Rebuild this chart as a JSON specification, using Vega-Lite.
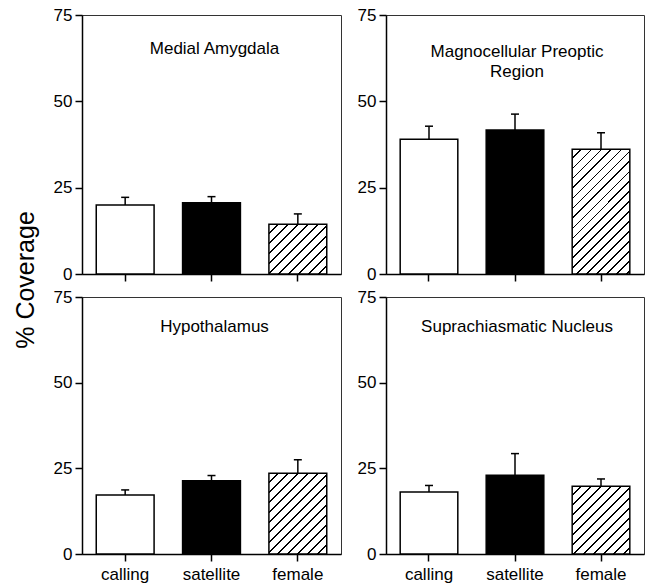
{
 "$schema": "https://vega.github.io/schema/vega-lite/v6.json",
 "padding": {"left": 13, "top": 5, "right": 6, "bottom": 1},
 "background": "white",
 "title": {"text": "% Coverage", "orient": "left", "anchor": "middle", "frame": "bounds", "fontSize": 25, "font": "Liberation Sans", "fontWeight": "normal", "color": "black", "offset": 14, "dx": 14},
 "datasets": {
  "bars": [
   {"region": "Medial Amygdala", "group": "calling", "mean": 20.0, "upper": 22.2},
   {"region": "Medial Amygdala", "group": "satellite", "mean": 20.6, "upper": 22.4},
   {"region": "Medial Amygdala", "group": "female", "mean": 14.4, "upper": 17.4},
   {"region": "Magnocellular Preoptic Region", "group": "calling", "mean": 39.0, "upper": 42.8},
   {"region": "Magnocellular Preoptic Region", "group": "satellite", "mean": 41.7, "upper": 46.3},
   {"region": "Magnocellular Preoptic Region", "group": "female", "mean": 36.1, "upper": 40.9},
   {"region": "Hypothalamus", "group": "calling", "mean": 17.25, "upper": 18.7},
   {"region": "Hypothalamus", "group": "satellite", "mean": 21.4, "upper": 22.9},
   {"region": "Hypothalamus", "group": "female", "mean": 23.6, "upper": 27.5},
   {"region": "Suprachiasmatic Nucleus", "group": "calling", "mean": 18.1, "upper": 20.0},
   {"region": "Suprachiasmatic Nucleus", "group": "satellite", "mean": 23.0, "upper": 29.3},
   {"region": "Suprachiasmatic Nucleus", "group": "female", "mean": 19.8, "upper": 21.9}
  ]
 },
 "columns": 2,
 "spacing": {"row": 23, "column": 45},
 "bounds": "flush",
 "concat": [
  {
   "width": 259, "height": 259,
   "data": {"name": "bars"},
   "encoding": {"x": {"field": "group", "type": "nominal", "sort": ["calling", "satellite", "female"], "scale": {"domain": ["calling", "satellite", "female"], "paddingInner": 0.33, "paddingOuter": 0.165}, "axis": {"title": null, "labels": false, "labelAngle": 0}}},
   "layer": [
    {"transform": [{"filter": "datum.region === 'Medial Amygdala' && datum.group !== 'female'"}],
     "mark": {"type": "bar", "stroke": "black", "strokeWidth": 1.5},
     "encoding": {"y": {"field": "mean", "type": "quantitative", "scale": {"domain": [0, 75], "nice": false}, "axis": {"title": null, "values": [0, 25, 50, 75]}},
      "fill": {"field": "group", "type": "nominal", "scale": {"domain": ["calling", "satellite"], "range": ["white", "black"]}, "legend": null}}},
    {"transform": [{"filter": "datum.region === 'Medial Amygdala' && datum.group === 'female'"}],
     "mark": {"type": "bar", "stroke": "black", "strokeWidth": 1.5, "fill": {"gradient": "linear", "x1": 0, "y1": 0, "x2": 1.890, "y2": 1.624, "stops": [{"offset":0,"color":"white"},{"offset":0.0446,"color":"white"},{"offset":0.0446,"color":"black"},{"offset":0.0526,"color":"black"},{"offset":0.0526,"color":"white"},{"offset":0.0973,"color":"white"},{"offset":0.0973,"color":"black"},{"offset":0.1053,"color":"black"},{"offset":0.1053,"color":"white"},{"offset":0.1499,"color":"white"},{"offset":0.1499,"color":"black"},{"offset":0.1579,"color":"black"},{"offset":0.1579,"color":"white"},{"offset":0.2025,"color":"white"},{"offset":0.2025,"color":"black"},{"offset":0.2105,"color":"black"},{"offset":0.2105,"color":"white"},{"offset":0.2552,"color":"white"},{"offset":0.2552,"color":"black"},{"offset":0.2632,"color":"black"},{"offset":0.2632,"color":"white"},{"offset":0.3078,"color":"white"},{"offset":0.3078,"color":"black"},{"offset":0.3158,"color":"black"},{"offset":0.3158,"color":"white"},{"offset":0.3604,"color":"white"},{"offset":0.3604,"color":"black"},{"offset":0.3684,"color":"black"},{"offset":0.3684,"color":"white"},{"offset":0.4131,"color":"white"},{"offset":0.4131,"color":"black"},{"offset":0.4211,"color":"black"},{"offset":0.4211,"color":"white"},{"offset":0.4657,"color":"white"},{"offset":0.4657,"color":"black"},{"offset":0.4737,"color":"black"},{"offset":0.4737,"color":"white"},{"offset":0.5183,"color":"white"},{"offset":0.5183,"color":"black"},{"offset":0.5263,"color":"black"},{"offset":0.5263,"color":"white"},{"offset":0.5709,"color":"white"},{"offset":0.5709,"color":"black"},{"offset":0.5789,"color":"black"},{"offset":0.5789,"color":"white"},{"offset":0.6236,"color":"white"},{"offset":0.6236,"color":"black"},{"offset":0.6316,"color":"black"},{"offset":0.6316,"color":"white"},{"offset":0.6762,"color":"white"},{"offset":0.6762,"color":"black"},{"offset":0.6842,"color":"black"},{"offset":0.6842,"color":"white"},{"offset":0.7288,"color":"white"},{"offset":0.7288,"color":"black"},{"offset":0.7368,"color":"black"},{"offset":0.7368,"color":"white"},{"offset":0.7815,"color":"white"},{"offset":0.7815,"color":"black"},{"offset":0.7895,"color":"black"},{"offset":0.7895,"color":"white"},{"offset":0.8341,"color":"white"},{"offset":0.8341,"color":"black"},{"offset":0.8421,"color":"black"},{"offset":0.8421,"color":"white"},{"offset":0.8867,"color":"white"},{"offset":0.8867,"color":"black"},{"offset":0.8947,"color":"black"},{"offset":0.8947,"color":"white"},{"offset":0.9394,"color":"white"},{"offset":0.9394,"color":"black"},{"offset":0.9474,"color":"black"},{"offset":0.9474,"color":"white"},{"offset":0.992,"color":"white"},{"offset":0.992,"color":"black"},{"offset":1,"color":"black"}]}},
     "encoding": {"y": {"field": "mean", "type": "quantitative"}}},
    {"transform": [{"filter": "datum.region === 'Medial Amygdala'"}],
     "mark": {"type": "rule", "color": "black", "strokeWidth": 1.5},
     "encoding": {"y": {"field": "mean", "type": "quantitative"}, "y2": {"field": "upper"}}},
    {"transform": [{"filter": "datum.region === 'Medial Amygdala'"}],
     "mark": {"type": "tick", "color": "black", "size": 8, "thickness": 1.5, "opacity": 1},
     "encoding": {"y": {"field": "upper", "type": "quantitative"}}},
    {"data": {"values": [{"label": "Medial Amygdala"}]},
     "mark": {"type": "text", "fontSize": 17, "font": "Liberation Sans", "color": "black", "baseline": "alphabetic", "dx": 3},
     "encoding": {"x": {"datum": "satellite", "type": "nominal"}, "y": {"datum": 63.6, "type": "quantitative"}, "text": {"field": "label"}}}
   ]
  },
  {
   "width": 258, "height": 259,
   "data": {"name": "bars"},
   "encoding": {"x": {"field": "group", "type": "nominal", "sort": ["calling", "satellite", "female"], "scale": {"domain": ["calling", "satellite", "female"], "paddingInner": 0.33, "paddingOuter": 0.165}, "axis": {"title": null, "labels": false, "labelAngle": 0}}},
   "layer": [
    {"transform": [{"filter": "datum.region === 'Magnocellular Preoptic Region' && datum.group !== 'female'"}],
     "mark": {"type": "bar", "stroke": "black", "strokeWidth": 1.5},
     "encoding": {"y": {"field": "mean", "type": "quantitative", "scale": {"domain": [0, 75], "nice": false}, "axis": {"title": null, "values": [0, 25, 50, 75]}},
      "fill": {"field": "group", "type": "nominal", "scale": {"domain": ["calling", "satellite"], "range": ["white", "black"]}, "legend": null}}},
    {"transform": [{"filter": "datum.region === 'Magnocellular Preoptic Region' && datum.group === 'female'"}],
     "mark": {"type": "bar", "stroke": "black", "strokeWidth": 1.5, "fill": {"gradient": "linear", "x1": 0, "y1": 0, "x2": 0.5804, "y2": 1.2557, "stops": [{"offset":0,"color":"white"},{"offset":0.0446,"color":"white"},{"offset":0.0446,"color":"black"},{"offset":0.0526,"color":"black"},{"offset":0.0526,"color":"white"},{"offset":0.0973,"color":"white"},{"offset":0.0973,"color":"black"},{"offset":0.1053,"color":"black"},{"offset":0.1053,"color":"white"},{"offset":0.1499,"color":"white"},{"offset":0.1499,"color":"black"},{"offset":0.1579,"color":"black"},{"offset":0.1579,"color":"white"},{"offset":0.2025,"color":"white"},{"offset":0.2025,"color":"black"},{"offset":0.2105,"color":"black"},{"offset":0.2105,"color":"white"},{"offset":0.2552,"color":"white"},{"offset":0.2552,"color":"black"},{"offset":0.2632,"color":"black"},{"offset":0.2632,"color":"white"},{"offset":0.3078,"color":"white"},{"offset":0.3078,"color":"black"},{"offset":0.3158,"color":"black"},{"offset":0.3158,"color":"white"},{"offset":0.3604,"color":"white"},{"offset":0.3604,"color":"black"},{"offset":0.3684,"color":"black"},{"offset":0.3684,"color":"white"},{"offset":0.4131,"color":"white"},{"offset":0.4131,"color":"black"},{"offset":0.4211,"color":"black"},{"offset":0.4211,"color":"white"},{"offset":0.4657,"color":"white"},{"offset":0.4657,"color":"black"},{"offset":0.4737,"color":"black"},{"offset":0.4737,"color":"white"},{"offset":0.5183,"color":"white"},{"offset":0.5183,"color":"black"},{"offset":0.5263,"color":"black"},{"offset":0.5263,"color":"white"},{"offset":0.5709,"color":"white"},{"offset":0.5709,"color":"black"},{"offset":0.5789,"color":"black"},{"offset":0.5789,"color":"white"},{"offset":0.6236,"color":"white"},{"offset":0.6236,"color":"black"},{"offset":0.6316,"color":"black"},{"offset":0.6316,"color":"white"},{"offset":0.6762,"color":"white"},{"offset":0.6762,"color":"black"},{"offset":0.6842,"color":"black"},{"offset":0.6842,"color":"white"},{"offset":0.7288,"color":"white"},{"offset":0.7288,"color":"black"},{"offset":0.7368,"color":"black"},{"offset":0.7368,"color":"white"},{"offset":0.7815,"color":"white"},{"offset":0.7815,"color":"black"},{"offset":0.7895,"color":"black"},{"offset":0.7895,"color":"white"},{"offset":0.8341,"color":"white"},{"offset":0.8341,"color":"black"},{"offset":0.8421,"color":"black"},{"offset":0.8421,"color":"white"},{"offset":0.8867,"color":"white"},{"offset":0.8867,"color":"black"},{"offset":0.8947,"color":"black"},{"offset":0.8947,"color":"white"},{"offset":0.9394,"color":"white"},{"offset":0.9394,"color":"black"},{"offset":0.9474,"color":"black"},{"offset":0.9474,"color":"white"},{"offset":0.992,"color":"white"},{"offset":0.992,"color":"black"},{"offset":1,"color":"black"}]}},
     "encoding": {"y": {"field": "mean", "type": "quantitative"}}},
    {"transform": [{"filter": "datum.region === 'Magnocellular Preoptic Region'"}],
     "mark": {"type": "rule", "color": "black", "strokeWidth": 1.5},
     "encoding": {"y": {"field": "mean", "type": "quantitative"}, "y2": {"field": "upper"}}},
    {"transform": [{"filter": "datum.region === 'Magnocellular Preoptic Region'"}],
     "mark": {"type": "tick", "color": "black", "size": 8, "thickness": 1.5, "opacity": 1},
     "encoding": {"y": {"field": "upper", "type": "quantitative"}}},
    {"data": {"values": [{"label": ["Magnocellular Preoptic", "Region"]}]},
     "mark": {"type": "text", "fontSize": 17, "font": "Liberation Sans", "color": "black", "baseline": "alphabetic", "lineHeight": 20, "dx": 2},
     "encoding": {"x": {"datum": "satellite", "type": "nominal"}, "y": {"datum": 62.8, "type": "quantitative"}, "text": {"field": "label"}}}
   ]
  },
  {
   "width": 259, "height": 257,
   "data": {"name": "bars"},
   "encoding": {"x": {"field": "group", "type": "nominal", "sort": ["calling", "satellite", "female"], "scale": {"domain": ["calling", "satellite", "female"], "paddingInner": 0.33, "paddingOuter": 0.165}, "axis": {"title": null, "labelAngle": 0}}},
   "layer": [
    {"transform": [{"filter": "datum.region === 'Hypothalamus' && datum.group !== 'female'"}],
     "mark": {"type": "bar", "stroke": "black", "strokeWidth": 1.5},
     "encoding": {"y": {"field": "mean", "type": "quantitative", "scale": {"domain": [0, 75], "nice": false}, "axis": {"title": null, "values": [0, 25, 50, 75]}},
      "fill": {"field": "group", "type": "nominal", "scale": {"domain": ["calling", "satellite"], "range": ["white", "black"]}, "legend": null}}},
    {"transform": [{"filter": "datum.region === 'Hypothalamus' && datum.group === 'female'"}],
     "mark": {"type": "bar", "stroke": "black", "strokeWidth": 1.5, "fill": {"gradient": "linear", "x1": 0, "y1": 0, "x2": 1.1117, "y2": 1.5543, "stops": [{"offset":0,"color":"white"},{"offset":0.0446,"color":"white"},{"offset":0.0446,"color":"black"},{"offset":0.0526,"color":"black"},{"offset":0.0526,"color":"white"},{"offset":0.0973,"color":"white"},{"offset":0.0973,"color":"black"},{"offset":0.1053,"color":"black"},{"offset":0.1053,"color":"white"},{"offset":0.1499,"color":"white"},{"offset":0.1499,"color":"black"},{"offset":0.1579,"color":"black"},{"offset":0.1579,"color":"white"},{"offset":0.2025,"color":"white"},{"offset":0.2025,"color":"black"},{"offset":0.2105,"color":"black"},{"offset":0.2105,"color":"white"},{"offset":0.2552,"color":"white"},{"offset":0.2552,"color":"black"},{"offset":0.2632,"color":"black"},{"offset":0.2632,"color":"white"},{"offset":0.3078,"color":"white"},{"offset":0.3078,"color":"black"},{"offset":0.3158,"color":"black"},{"offset":0.3158,"color":"white"},{"offset":0.3604,"color":"white"},{"offset":0.3604,"color":"black"},{"offset":0.3684,"color":"black"},{"offset":0.3684,"color":"white"},{"offset":0.4131,"color":"white"},{"offset":0.4131,"color":"black"},{"offset":0.4211,"color":"black"},{"offset":0.4211,"color":"white"},{"offset":0.4657,"color":"white"},{"offset":0.4657,"color":"black"},{"offset":0.4737,"color":"black"},{"offset":0.4737,"color":"white"},{"offset":0.5183,"color":"white"},{"offset":0.5183,"color":"black"},{"offset":0.5263,"color":"black"},{"offset":0.5263,"color":"white"},{"offset":0.5709,"color":"white"},{"offset":0.5709,"color":"black"},{"offset":0.5789,"color":"black"},{"offset":0.5789,"color":"white"},{"offset":0.6236,"color":"white"},{"offset":0.6236,"color":"black"},{"offset":0.6316,"color":"black"},{"offset":0.6316,"color":"white"},{"offset":0.6762,"color":"white"},{"offset":0.6762,"color":"black"},{"offset":0.6842,"color":"black"},{"offset":0.6842,"color":"white"},{"offset":0.7288,"color":"white"},{"offset":0.7288,"color":"black"},{"offset":0.7368,"color":"black"},{"offset":0.7368,"color":"white"},{"offset":0.7815,"color":"white"},{"offset":0.7815,"color":"black"},{"offset":0.7895,"color":"black"},{"offset":0.7895,"color":"white"},{"offset":0.8341,"color":"white"},{"offset":0.8341,"color":"black"},{"offset":0.8421,"color":"black"},{"offset":0.8421,"color":"white"},{"offset":0.8867,"color":"white"},{"offset":0.8867,"color":"black"},{"offset":0.8947,"color":"black"},{"offset":0.8947,"color":"white"},{"offset":0.9394,"color":"white"},{"offset":0.9394,"color":"black"},{"offset":0.9474,"color":"black"},{"offset":0.9474,"color":"white"},{"offset":0.992,"color":"white"},{"offset":0.992,"color":"black"},{"offset":1,"color":"black"}]}},
     "encoding": {"y": {"field": "mean", "type": "quantitative"}}},
    {"transform": [{"filter": "datum.region === 'Hypothalamus'"}],
     "mark": {"type": "rule", "color": "black", "strokeWidth": 1.5},
     "encoding": {"y": {"field": "mean", "type": "quantitative"}, "y2": {"field": "upper"}}},
    {"transform": [{"filter": "datum.region === 'Hypothalamus'"}],
     "mark": {"type": "tick", "color": "black", "size": 8, "thickness": 1.5, "opacity": 1},
     "encoding": {"y": {"field": "upper", "type": "quantitative"}}},
    {"data": {"values": [{"label": "Hypothalamus"}]},
     "mark": {"type": "text", "fontSize": 17, "font": "Liberation Sans", "color": "black", "baseline": "alphabetic", "dx": 3},
     "encoding": {"x": {"datum": "satellite", "type": "nominal"}, "y": {"datum": 64.8, "type": "quantitative"}, "text": {"field": "label"}}}
   ]
  },
  {
   "width": 258, "height": 257,
   "data": {"name": "bars"},
   "encoding": {"x": {"field": "group", "type": "nominal", "sort": ["calling", "satellite", "female"], "scale": {"domain": ["calling", "satellite", "female"], "paddingInner": 0.33, "paddingOuter": 0.165}, "axis": {"title": null, "labelAngle": 0}}},
   "layer": [
    {"transform": [{"filter": "datum.region === 'Suprachiasmatic Nucleus' && datum.group !== 'female'"}],
     "mark": {"type": "bar", "stroke": "black", "strokeWidth": 1.5},
     "encoding": {"y": {"field": "mean", "type": "quantitative", "scale": {"domain": [0, 75], "nice": false}, "axis": {"title": null, "values": [0, 25, 50, 75]}},
      "fill": {"field": "group", "type": "nominal", "scale": {"domain": ["calling", "satellite"], "range": ["white", "black"]}, "legend": null}}},
    {"transform": [{"filter": "datum.region === 'Suprachiasmatic Nucleus' && datum.group === 'female'"}],
     "mark": {"type": "bar", "stroke": "black", "strokeWidth": 1.5, "fill": {"gradient": "linear", "x1": 0, "y1": 0, "x2": 1.3817, "y2": 1.627, "stops": [{"offset":0,"color":"white"},{"offset":0.0446,"color":"white"},{"offset":0.0446,"color":"black"},{"offset":0.0526,"color":"black"},{"offset":0.0526,"color":"white"},{"offset":0.0973,"color":"white"},{"offset":0.0973,"color":"black"},{"offset":0.1053,"color":"black"},{"offset":0.1053,"color":"white"},{"offset":0.1499,"color":"white"},{"offset":0.1499,"color":"black"},{"offset":0.1579,"color":"black"},{"offset":0.1579,"color":"white"},{"offset":0.2025,"color":"white"},{"offset":0.2025,"color":"black"},{"offset":0.2105,"color":"black"},{"offset":0.2105,"color":"white"},{"offset":0.2552,"color":"white"},{"offset":0.2552,"color":"black"},{"offset":0.2632,"color":"black"},{"offset":0.2632,"color":"white"},{"offset":0.3078,"color":"white"},{"offset":0.3078,"color":"black"},{"offset":0.3158,"color":"black"},{"offset":0.3158,"color":"white"},{"offset":0.3604,"color":"white"},{"offset":0.3604,"color":"black"},{"offset":0.3684,"color":"black"},{"offset":0.3684,"color":"white"},{"offset":0.4131,"color":"white"},{"offset":0.4131,"color":"black"},{"offset":0.4211,"color":"black"},{"offset":0.4211,"color":"white"},{"offset":0.4657,"color":"white"},{"offset":0.4657,"color":"black"},{"offset":0.4737,"color":"black"},{"offset":0.4737,"color":"white"},{"offset":0.5183,"color":"white"},{"offset":0.5183,"color":"black"},{"offset":0.5263,"color":"black"},{"offset":0.5263,"color":"white"},{"offset":0.5709,"color":"white"},{"offset":0.5709,"color":"black"},{"offset":0.5789,"color":"black"},{"offset":0.5789,"color":"white"},{"offset":0.6236,"color":"white"},{"offset":0.6236,"color":"black"},{"offset":0.6316,"color":"black"},{"offset":0.6316,"color":"white"},{"offset":0.6762,"color":"white"},{"offset":0.6762,"color":"black"},{"offset":0.6842,"color":"black"},{"offset":0.6842,"color":"white"},{"offset":0.7288,"color":"white"},{"offset":0.7288,"color":"black"},{"offset":0.7368,"color":"black"},{"offset":0.7368,"color":"white"},{"offset":0.7815,"color":"white"},{"offset":0.7815,"color":"black"},{"offset":0.7895,"color":"black"},{"offset":0.7895,"color":"white"},{"offset":0.8341,"color":"white"},{"offset":0.8341,"color":"black"},{"offset":0.8421,"color":"black"},{"offset":0.8421,"color":"white"},{"offset":0.8867,"color":"white"},{"offset":0.8867,"color":"black"},{"offset":0.8947,"color":"black"},{"offset":0.8947,"color":"white"},{"offset":0.9394,"color":"white"},{"offset":0.9394,"color":"black"},{"offset":0.9474,"color":"black"},{"offset":0.9474,"color":"white"},{"offset":0.992,"color":"white"},{"offset":0.992,"color":"black"},{"offset":1,"color":"black"}]}},
     "encoding": {"y": {"field": "mean", "type": "quantitative"}}},
    {"transform": [{"filter": "datum.region === 'Suprachiasmatic Nucleus'"}],
     "mark": {"type": "rule", "color": "black", "strokeWidth": 1.5},
     "encoding": {"y": {"field": "mean", "type": "quantitative"}, "y2": {"field": "upper"}}},
    {"transform": [{"filter": "datum.region === 'Suprachiasmatic Nucleus'"}],
     "mark": {"type": "tick", "color": "black", "size": 8, "thickness": 1.5, "opacity": 1},
     "encoding": {"y": {"field": "upper", "type": "quantitative"}}},
    {"data": {"values": [{"label": "Suprachiasmatic Nucleus"}]},
     "mark": {"type": "text", "fontSize": 17, "font": "Liberation Sans", "color": "black", "baseline": "alphabetic", "dx": 2},
     "encoding": {"x": {"datum": "satellite", "type": "nominal"}, "y": {"datum": 64.8, "type": "quantitative"}, "text": {"field": "label"}}}
   ]
  }
 ],
 "config": {
  "font": "Liberation Sans",
  "view": {"stroke": "#333", "strokeWidth": 1},
  "axis": {"labelFont": "Liberation Sans", "labelFontSize": 17, "labelColor": "black", "tickColor": "black", "domainColor": "black", "domainWidth": 1.5, "tickWidth": 1.5, "tickSize": 7, "grid": false},
  "axisY": {"labelPadding": 3},
  "axisX": {"labelPadding": 5}
 }
}
